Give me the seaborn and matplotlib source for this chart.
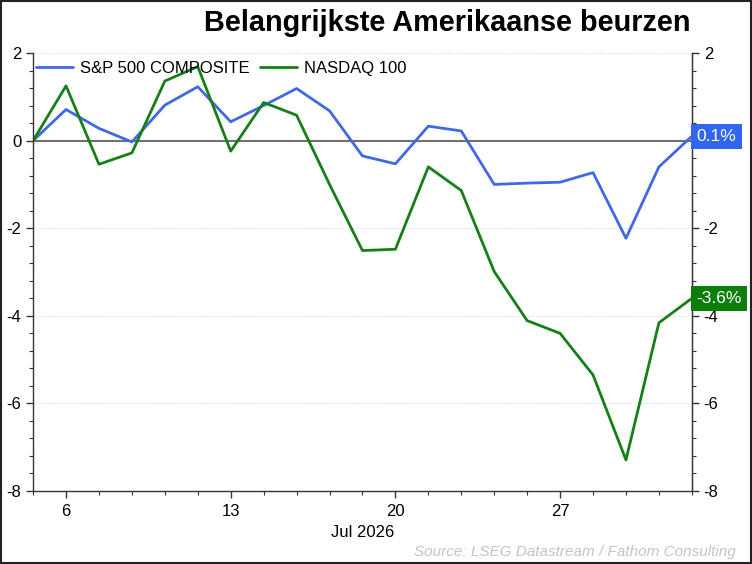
import matplotlib
matplotlib.use("Agg")
import matplotlib.pyplot as plt
import seaborn as sns
import pandas as pd
from matplotlib.ticker import FixedLocator, MultipleLocator

# handelsdagen (index) en labels op de x-as
dagen = list(range(21))
tick_pos = [1, 6, 11, 16]
tick_labels = ['6', '13', '20', '27']
y_ticks = [2, 0, -2, -4, -6, -8]

sp500 = [0.0, 0.71, 0.28, -0.03, 0.81, 1.23, 0.43, 0.80, 1.19, 0.68, -0.35,
         -0.53, 0.33, 0.22, -1.00, -0.97, -0.95, -0.73, -2.23, -0.60, 0.10]
nasdaq = [0.0, 1.25, -0.54, -0.28, 1.36, 1.69, -0.24, 0.87, 0.58, -1.00, -2.51,
          -2.48, -0.60, -1.14, -2.99, -4.11, -4.40, -5.35, -7.29, -4.16, -3.60]

blauw = '#4169E1'
groen = '#177F17'

df = pd.DataFrame({'dag': dagen * 2,
                   'waarde': sp500 + nasdaq,
                   'reeks': ['S&P 500 COMPOSITE'] * 21 + ['NASDAQ 100'] * 21})

sns.set_style('white')
plt.rcParams['font.family'] = ['Liberation Sans', 'DejaVu Sans']
plt.rcParams['axes.unicode_minus'] = False
plt.rcParams['text.color'] = 'black'
plt.rcParams['xtick.color'] = 'black'
plt.rcParams['ytick.color'] = 'black'

fig = plt.figure(figsize=(7.52, 5.64), dpi=100)
ax = fig.add_axes([0.044, 0.1294, 0.876, 0.7766])

sns.lineplot(data=df, x='dag', y='waarde', hue='reeks',
             palette={'S&P 500 COMPOSITE': blauw, 'NASDAQ 100': groen},
             linewidth=2, ax=ax)

ax.axhline(0, color='#707070', linewidth=1.5, zorder=1)
for g in [2, -2, -4, -6]:
    ax.axhline(g, color='#d8d8d8', linewidth=0.7, linestyle=':', zorder=0)

ax.set_xlim(0, 20)
ax.set_ylim(-8, 2)
ax.set_xlabel('')
ax.set_ylabel('')

ax.xaxis.set_major_locator(FixedLocator(tick_pos))
ax.set_xticklabels(tick_labels)
ax.xaxis.set_minor_locator(MultipleLocator(1))
ax.yaxis.set_minor_locator(MultipleLocator(0.4))
ax.set_yticks(y_ticks)
ax.set_yticklabels([str(t) for t in y_ticks])
ax.tick_params(axis='both', which='major', length=5, width=1, color='#333333',
               labelsize=12, direction='out', labelcolor='black')
ax.tick_params(axis='both', which='minor', length=3, width=0.8, color='#333333',
               direction='out')
ax.tick_params(axis='y', which='both', left=True, right=True)
ax.tick_params(axis='x', which='both', bottom=True, pad=4)

# rechter as: de 0 valt weg achter het label
ax2 = ax.twinx()
ax2.set_ylim(ax.get_ylim())
ax2.set_yticks(y_ticks)
ax2.set_yticklabels(['' if t == 0 else str(t) for t in y_ticks])
ax2.yaxis.set_minor_locator(MultipleLocator(0.4))
ax2.tick_params(axis='y', which='major', length=5, width=1, color='#333333',
                labelsize=12, labelcolor='black')
ax2.tick_params(axis='y', which='minor', length=3, width=0.8, color='#333333')
for kant in ['top', 'left', 'bottom']:
    ax2.spines[kant].set_visible(False)
ax2.spines['right'].set_color('#333333')
ax2.grid(False)

for kant in ['left', 'bottom', 'right']:
    ax.spines[kant].set_color('#333333')
    ax.spines[kant].set_linewidth(1)
ax.spines['top'].set_visible(False)

ax.text(0.5, -0.078, 'Jul 2026', transform=ax.transAxes, ha='center', va='top',
        fontsize=12)

leg = ax.legend(loc='upper left', ncol=2, frameon=False, fontsize=12,
                handlelength=2.2, handletextpad=0.45, columnspacing=0.6,
                borderaxespad=0.1, borderpad=0.2, bbox_to_anchor=(-0.003, 0.993))

# eindwaarden als labels rechts
for waarde, kleur in [(sp500[-1], '#3366EE'), (nasdaq[-1], '#0B7D0B')]:
    ax2.annotate(f'{waarde:.1f}%', xy=(1.0, waarde), xycoords=('axes fraction', 'data'),
                 xytext=(3.5, 0), textcoords='offset points', ha='left', va='center',
                 fontsize=12.5, color='white', zorder=10, annotation_clip=False,
                 bbox=dict(boxstyle='square,pad=0.3', facecolor=kleur, edgecolor='none'))

fig.text(0.918, 0.96, 'Belangrijkste Amerikaanse beurzen', ha='right', va='center',
         fontsize=20.8, fontweight='bold')
fig.text(0.979, 0.021, 'Source: LSEG Datastream / Fathom Consulting', ha='right',
         va='center', fontsize=11, style='italic', color='#c4c4c4')

fig.patches.append(plt.Rectangle((0.001, 0.001), 0.998, 0.997, transform=fig.transFigure,
                                 fill=False, edgecolor='#222222', linewidth=1.5))

fig.savefig('out.png', dpi=100)
